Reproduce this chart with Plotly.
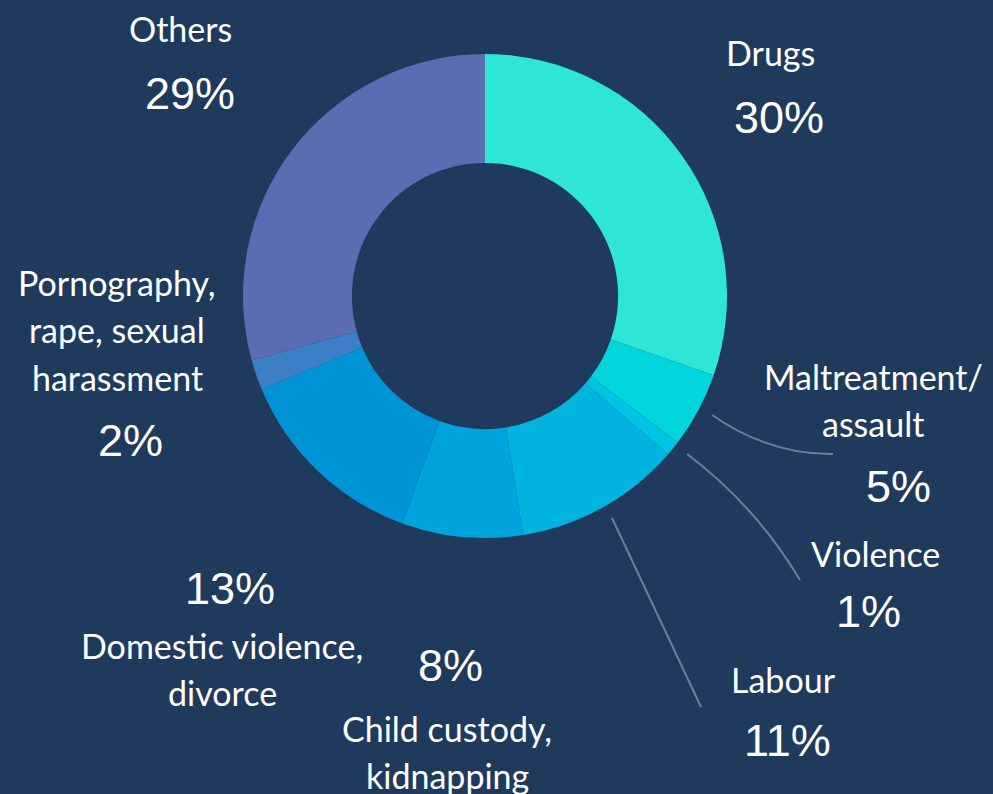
import plotly.graph_objects as go

categories = ["Drugs", "Maltreatment/<br>assault", "Violence", "Labour",
              "Child custody,<br>kidnapping", "Domestic violence,<br>divorce",
              "Pornography,<br>rape, sexual<br>harassment", "Others"]
values = [30, 5, 1, 11, 8, 13, 2, 29]
colors = ["#2ee6d6", "#00d6dc", "#00c4e4", "#00b4e0", "#00a3dc", "#0093d6", "#3b80c6", "#5a6cb2"]

# label layout (pixel positions of the first text line centre, percent centre)
label_pos = [(770, 52), (873, 376), (875, 553), (783, 679), (447, 728), (222, 645), (117, 282), (180, 28)]
pct_pos = [(779, 117), (898, 486), (868, 611), (787, 740), (450, 665), (230, 588), (130, 440), (190, 93)]
line_gap = 47.5

W, H = 993, 794
BG = "#1f3a5c"
cx, cy, R = 485, 296, 242

fig = go.Figure()
fig.add_trace(go.Pie(
    labels=categories, values=values, sort=False, direction="clockwise", rotation=0,
    hole=0.55, marker=dict(colors=colors, line=dict(width=0)),
    textinfo="none", hoverinfo="label+percent", showlegend=False,
    domain=dict(x=[(cx - R) / W, (cx + R) / W], y=[(H - cy - R) / H, (H - cy + R) / H]),
))

annotations = []
for cat, v, (lx, ly), (px, py) in zip(categories, values, label_pos, pct_pos):
    for i, line in enumerate(cat.split("<br>")):
        annotations.append(dict(x=lx, y=ly + i * line_gap, xref="x", yref="y", text=line,
                                showarrow=False, xanchor="center", yanchor="middle",
                                font=dict(family="Lato", size=34, color="white")))
    annotations.append(dict(x=px, y=py, xref="x", yref="y", text=f"{v}%",
                            showarrow=False, xanchor="center", yanchor="middle",
                            font=dict(family="Liberation Sans, Arial", size=45, color="white")))

line_style = dict(color="#6a7f99", width=2)
shapes = [
    dict(type="path", xref="x", yref="y", path="M 712 415 Q 770 455 833 454", line=line_style),
    dict(type="path", xref="x", yref="y", path="M 687 454 Q 755 505 800 580", line=line_style),
    dict(type="path", xref="x", yref="y", path="M 612 518 L 701 707", line=line_style),
]

fig.update_layout(
    width=W, height=H, margin=dict(l=0, r=0, t=0, b=0),
    paper_bgcolor=BG, plot_bgcolor=BG,
    xaxis=dict(range=[0, W], visible=False, fixedrange=True),
    yaxis=dict(range=[H, 0], visible=False, fixedrange=True),
    annotations=annotations, shapes=shapes,
)
fig.write_html("out.html", config={"displayModeBar": False},
               post_script="document.body.style.margin='0px';document.body.style.overflow='hidden';")
